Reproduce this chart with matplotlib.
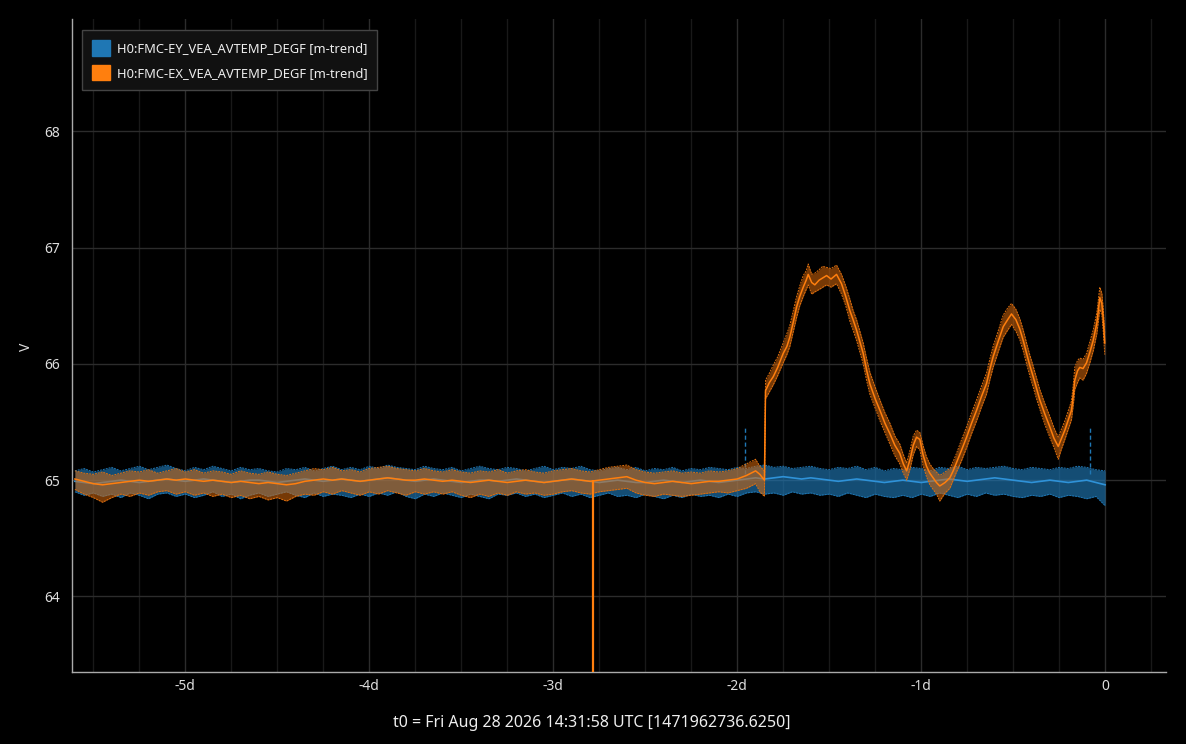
import numpy as np
import matplotlib
matplotlib.use("Agg")
import matplotlib.pyplot as plt
from matplotlib.patches import Patch

plt.rcParams['font.family'] = ['Noto Sans', 'DejaVu Sans']

# ---- data (days relative to t0, values in V) ----
labels = ["H0:FMC-EY_VEA_AVTEMP_DEGF [m-trend]",
          "H0:FMC-EX_VEA_AVTEMP_DEGF [m-trend]"]

# common sample grid for the flat part
days = np.round(np.arange(-5.60, 0.001, 0.05), 2)

blue_mean = [
    64.99, 64.98, 64.97, 64.98, 64.99, 65.00, 64.99, 64.98, 64.99, 65.00,
    65.01, 65.00, 64.99, 65.00, 65.01, 65.00, 64.99, 64.98, 64.99, 65.00,
    65.00, 64.99, 64.98, 64.99, 65.00, 65.01, 65.00, 64.99, 65.00, 65.01,
    65.00, 64.99, 65.00, 65.01, 65.02, 65.01, 65.00, 64.99, 65.00, 65.01,
    65.00, 64.99, 64.98, 64.99, 65.00, 65.00, 64.99, 65.00, 65.01, 65.00,
    64.99, 64.98, 64.99, 65.00, 65.01, 65.00, 64.99, 64.98, 64.99, 65.00,
    64.99, 64.98, 64.98, 64.99, 65.00, 64.99, 64.98, 64.99, 65.00, 64.99,
    64.98, 64.99, 65.00, 65.01, 65.02, 65.01, 65.02, 65.03, 65.02, 65.01,
    65.02, 65.01, 65.00, 64.99, 65.00, 65.01, 65.00, 64.99, 64.98, 64.99,
    65.00, 64.99, 64.98, 64.99, 65.00, 65.01, 65.00, 64.99, 65.00, 65.01,
    65.02, 65.01, 65.00, 64.99, 64.98, 64.99, 65.00, 64.99, 64.98, 64.99,
    65.00, 64.98, 64.96]
blue_hi = [
    65.08, 65.10, 65.07, 65.09, 65.11, 65.08, 65.10, 65.12, 65.09, 65.11,
    65.13, 65.10, 65.08, 65.11, 65.09, 65.12, 65.10, 65.08, 65.11, 65.09,
    65.10, 65.08, 65.07, 65.10, 65.09, 65.11, 65.08, 65.10, 65.12, 65.09,
    65.11, 65.09, 65.12, 65.10, 65.13, 65.11, 65.10, 65.09, 65.12, 65.10,
    65.09, 65.11, 65.08, 65.10, 65.12, 65.10, 65.09, 65.11, 65.10, 65.08,
    65.10, 65.12, 65.09, 65.11, 65.10, 65.12, 65.09, 65.08, 65.10, 65.11,
    65.09, 65.11, 65.08, 65.10, 65.09, 65.11, 65.08, 65.10, 65.09, 65.11,
    65.10, 65.09, 65.11, 65.10, 65.12, 65.13, 65.11, 65.12, 65.10, 65.11,
    65.12, 65.10, 65.09, 65.11, 65.10, 65.12, 65.09, 65.11, 65.08, 65.10,
    65.09, 65.11, 65.10, 65.08, 65.11, 65.10, 65.12, 65.09, 65.11, 65.10,
    65.11, 65.12, 65.10, 65.09, 65.11, 65.10, 65.09, 65.11, 65.10, 65.12,
    65.11, 65.09, 65.08]
blue_lo = [
    64.90, 64.87, 64.89, 64.86, 64.88, 64.85, 64.89, 64.87, 64.84, 64.88,
    64.89, 64.86, 64.88, 64.85, 64.87, 64.90, 64.86, 64.88, 64.84, 64.87,
    64.89, 64.86, 64.88, 64.90, 64.87, 64.85, 64.89, 64.86, 64.88, 64.87,
    64.85, 64.88, 64.86, 64.89, 64.87, 64.90, 64.86, 64.84, 64.88, 64.86,
    64.89, 64.87, 64.85, 64.88, 64.86, 64.84, 64.88, 64.87, 64.89, 64.86,
    64.88, 64.85, 64.87, 64.89, 64.86, 64.88, 64.85, 64.87, 64.89, 64.86,
    64.87, 64.85, 64.88, 64.86, 64.84, 64.87, 64.85, 64.88, 64.86, 64.87,
    64.85, 64.88, 64.86, 64.89, 64.90, 64.88, 64.89, 64.87, 64.90, 64.88,
    64.89, 64.87, 64.88, 64.86, 64.89, 64.87, 64.85, 64.88, 64.86, 64.85,
    64.87, 64.85, 64.88, 64.86, 64.89, 64.87, 64.85, 64.88, 64.86, 64.89,
    64.87, 64.88, 64.86, 64.85, 64.87, 64.86, 64.88, 64.85, 64.87, 64.86,
    64.84, 64.86, 64.78]
# single-sample glitches in the blue trace
blue_spike_t = [-1.96, -0.083]
blue_spike_hi = [65.46, 65.45]

# orange, quiet part (-5.60 .. -1.90 on the grid) then the two samples before the jump
orange_flat_t = [-1.877, -1.852]
orange_mean_flat = [
    65.01, 64.99, 64.97, 64.96, 64.97, 64.98, 64.99, 65.00, 64.99, 65.00,
    65.01, 65.00, 65.01, 65.00, 64.99, 65.00, 64.99, 64.98, 64.99, 64.98,
    64.97, 64.98, 64.97, 64.96, 64.97, 64.99, 65.00, 65.01, 65.00, 65.01,
    65.00, 64.99, 65.00, 65.01, 65.02, 65.01, 65.00, 65.00, 65.01, 65.00,
    64.99, 65.00, 64.99, 64.98, 64.99, 65.00, 64.99, 64.98, 64.99, 65.00,
    64.99, 64.98, 64.99, 65.00, 65.01, 65.00, 64.99, 65.00, 65.01, 65.02,
    65.03, 65.00, 64.98, 64.97, 64.98, 64.99, 64.98, 64.97, 64.98, 64.99,
    64.99, 65.00, 65.01, 65.04, 65.08,
    65.05, 65.00]
orange_hi_flat = [
    65.08, 65.06, 65.05, 65.07, 65.04, 65.06, 65.08, 65.07, 65.09, 65.06,
    65.08, 65.10, 65.07, 65.09, 65.06, 65.08, 65.07, 65.05, 65.08, 65.06,
    65.05, 65.07, 65.05, 65.04, 65.06, 65.08, 65.10, 65.09, 65.11, 65.08,
    65.09, 65.07, 65.10, 65.11, 65.12, 65.10, 65.09, 65.08, 65.10, 65.08,
    65.07, 65.09, 65.07, 65.06, 65.08, 65.07, 65.09, 65.06, 65.08, 65.09,
    65.07, 65.06, 65.08, 65.09, 65.10, 65.08, 65.07, 65.09, 65.11, 65.12,
    65.13, 65.09, 65.07, 65.06, 65.07, 65.08, 65.06, 65.07, 65.06, 65.08,
    65.07, 65.08, 65.10, 65.14, 65.18,
    65.12, 65.08]
orange_lo_flat = [
    64.92, 64.88, 64.85, 64.81, 64.85, 64.88, 64.86, 64.89, 64.87, 64.90,
    64.91, 64.88, 64.90, 64.87, 64.89, 64.86, 64.88, 64.85, 64.87, 64.84,
    64.86, 64.83, 64.85, 64.82, 64.86, 64.88, 64.87, 64.90, 64.88, 64.91,
    64.89, 64.87, 64.90, 64.88, 64.91, 64.89, 64.87, 64.90, 64.88, 64.90,
    64.88, 64.90, 64.87, 64.85, 64.88, 64.86, 64.89, 64.87, 64.90, 64.88,
    64.89, 64.87, 64.88, 64.90, 64.91, 64.89, 64.88, 64.90, 64.91, 64.92,
    64.93, 64.89, 64.87, 64.86, 64.88, 64.87, 64.86, 64.87, 64.88, 64.89,
    64.90, 64.89, 64.91, 64.93, 64.97,
    64.90, 64.86]

# orange, after the step at -1.85 d
orange_t = [
    -1.846, -1.825, -1.804, -1.780, -1.750, -1.730, -1.714, -1.695, -1.677, -1.660,
    -1.641, -1.625, -1.614, -1.595, -1.578, -1.555, -1.535, -1.514, -1.490, -1.460,
    -1.433, -1.410, -1.388, -1.370, -1.351, -1.333, -1.315, -1.297, -1.279, -1.250,
    -1.224, -1.197, -1.170, -1.143, -1.116, -1.097, -1.079, -1.060, -1.043, -1.025,
    -1.007, -0.990, -0.971, -0.953, -0.935, -0.917, -0.899, -0.870, -0.844, -0.826,
    -0.808, -0.780, -0.753, -0.726, -0.699, -0.672, -0.645, -0.627, -0.609, -0.580,
    -0.554, -0.530, -0.509, -0.485, -0.464, -0.445, -0.427, -0.410, -0.391, -0.373,
    -0.355, -0.328, -0.301, -0.278, -0.255, -0.237, -0.219, -0.200, -0.183, -0.172,
    -0.165, -0.150, -0.138, -0.120, -0.101, -0.083, -0.065, -0.045, -0.029, -0.018,
    -0.011, -0.002]
orange_mean = [
    65.77, 65.84, 65.89, 65.97, 66.09, 66.15, 66.23, 66.36, 66.49, 66.58,
    66.66, 66.72, 66.77, 66.70, 66.68, 66.72, 66.74, 66.76, 66.73, 66.77,
    66.69, 66.58, 66.46, 66.38, 66.29, 66.19, 66.09, 65.95, 65.83, 65.70,
    65.60, 65.49, 65.40, 65.30, 65.23, 65.14, 65.08, 65.18, 65.30, 65.37,
    65.35, 65.22, 65.12, 65.06, 65.02, 64.98, 64.95, 64.98, 65.02, 65.08,
    65.15, 65.26, 65.37, 65.49, 65.60, 65.72, 65.83, 65.95, 66.06, 66.20,
    66.32, 66.38, 66.43, 66.38, 66.30, 66.20, 66.09, 65.99, 65.89, 65.79,
    65.69, 65.57, 65.46, 65.36, 65.29, 65.36, 65.43, 65.52, 65.60, 65.75,
    65.86, 65.94, 65.97, 65.96, 66.01, 66.10, 66.20, 66.35, 66.57, 66.52,
    66.40, 66.18]
orange_hi = [
    65.86, 65.92, 65.99, 66.06, 66.18, 66.26, 66.33, 66.46, 66.58, 66.67,
    66.76, 66.80, 66.86, 66.77, 66.78, 66.81, 66.84, 66.83, 66.82, 66.85,
    66.77, 66.67, 66.56, 66.46, 66.38, 66.28, 66.18, 66.05, 65.93, 65.80,
    65.69, 65.58, 65.49, 65.38, 65.31, 65.22, 65.15, 65.26, 65.38, 65.43,
    65.41, 65.30, 65.20, 65.14, 65.10, 65.07, 65.04, 65.07, 65.10, 65.16,
    65.23, 65.35, 65.46, 65.58, 65.69, 65.81, 65.92, 66.04, 66.15, 66.29,
    66.42, 66.48, 66.52, 66.47, 66.39, 66.29, 66.18, 66.08, 65.98, 65.88,
    65.78, 65.66, 65.55, 65.45, 65.37, 65.44, 65.51, 65.60, 65.68, 65.84,
    65.97, 66.03, 66.05, 66.04, 66.09, 66.19, 66.29, 66.44, 66.66, 66.61,
    66.49, 66.27]
orange_lo = [
    65.70, 65.76, 65.82, 65.90, 66.01, 66.08, 66.15, 66.28, 66.40, 66.50,
    66.58, 66.64, 66.68, 66.60, 66.62, 66.64, 66.66, 66.68, 66.66, 66.69,
    66.60, 66.50, 66.37, 66.29, 66.20, 66.10, 66.00, 65.86, 65.74, 65.62,
    65.51, 65.41, 65.31, 65.21, 65.14, 65.06, 65.00, 65.10, 65.22, 65.29,
    65.26, 65.13, 65.03, 64.96, 64.92, 64.88, 64.82, 64.89, 64.93, 65.00,
    65.07, 65.17, 65.28, 65.40, 65.51, 65.63, 65.74, 65.86, 65.97, 66.11,
    66.23, 66.29, 66.34, 66.28, 66.21, 66.11, 66.00, 65.90, 65.80, 65.70,
    65.61, 65.48, 65.37, 65.28, 65.18, 65.27, 65.35, 65.44, 65.52, 65.66,
    65.78, 65.84, 65.88, 65.86, 65.92, 66.01, 66.11, 66.26, 66.47, 66.42,
    66.30, 66.08]
# dropout at -2.786 d
orange_spike_t = [-2.786]
orange_spike_from = [65.00]
orange_spike_to = [62.50]

xtick_vals = [-5, -4, -3, -2, -1, 0]
xtick_labels = ["-5d", "-4d", "-3d", "-2d", "-1d", "0"]
ytick_vals = [64, 65, 66, 67, 68]

# ---- build orange full arrays ----
flat_grid = days[days <= -1.899]
o_t = np.concatenate([flat_grid, orange_flat_t, orange_t])
o_mean = np.concatenate([orange_mean_flat, orange_mean])
o_hi = np.concatenate([orange_hi_flat, orange_hi])
o_lo = np.concatenate([orange_lo_flat, orange_lo])

# ---- figure ----
fig = plt.figure(figsize=(11.86, 7.44), dpi=100, facecolor='black')
ax = fig.add_axes([0.061, 0.0968, 0.922, 0.8777])
ax.set_facecolor('black')

blue = '#1f77b4'
orange = '#ff7f0e'

# blue series
ax.fill_between(days, blue_lo, blue_hi, color=blue, alpha=0.65, lw=0, zorder=2)
ax.plot(days, blue_hi, color=blue, lw=0.7, ls=(0, (2, 1)), zorder=2)
ax.plot(days, blue_lo, color=blue, lw=0.7, ls=(0, (2, 1)), zorder=2)
ax.vlines(blue_spike_t, 65.05, blue_spike_hi, color=blue, lw=1, ls=(0, (3, 2)), zorder=2)
ax.plot(days, blue_mean, color='#2f92d8', lw=1.2, zorder=3)

# orange series
ax.fill_between(o_t, o_lo, o_hi, color='#d9690c', alpha=0.55, lw=0, zorder=4)
ax.plot(o_t, o_hi, color='#e0700e', lw=0.7, ls=(0, (2, 1)), zorder=4)
ax.plot(o_t, o_lo, color='#e0700e', lw=0.7, ls=(0, (2, 1)), zorder=4)
ax.vlines(orange_spike_t, orange_spike_from, orange_spike_to, color=orange, lw=1.6, zorder=5)
ax.plot(o_t, o_mean, color=orange, lw=1.1, zorder=5)

# axes
ax.set_xlim(-5.614, 0.330)
ax.set_ylim(63.35, 68.967)
ax.set_xticks(xtick_vals)
ax.set_xticklabels(xtick_labels)
ax.set_xticks(np.arange(-5.5, 0.33, 0.25), minor=True)
ax.set_yticks(ytick_vals)
ax.tick_params(axis='both', which='both', length=0, colors='#dddddd', labelsize=10, pad=9)
ax.tick_params(axis='x', pad=5)
ax.grid(True, which='major', color='#2c2c2c', lw=1)
ax.grid(True, which='minor', axis='x', color='#191919', lw=1)
ax.set_axisbelow(True)
for s in ['top', 'right']:
    ax.spines[s].set_visible(False)
for s in ['left', 'bottom']:
    ax.spines[s].set_color('#aaaaaa')
    ax.spines[s].set_linewidth(1)

handles = [Patch(facecolor=blue, edgecolor=blue), Patch(facecolor=orange, edgecolor=orange)]
leg = ax.legend(handles, labels, loc='upper left', bbox_to_anchor=(0.009, 0.983),
                frameon=True, fancybox=False, facecolor='#111111', edgecolor='#444444',
                fontsize=9.3, labelcolor='#eeeeee', handlelength=1.4, handleheight=1.5,
                handletextpad=0.55, borderpad=0.75, labelspacing=0.7, borderaxespad=0)
leg.get_frame().set_linewidth(1)
leg.get_frame().set_alpha(1)

fig.text(0.022, 1 - 347 / 744, "V", rotation=90, color='#dddddd', fontsize=10,
         ha='center', va='center')
fig.text(0.499, 1 - 723 / 744, "t0 = Fri Aug 28 2026 14:31:58 UTC [1471962736.6250]",
         color='#eeeeee', fontsize=11.5, ha='center', va='center')

fig.savefig('out.png', dpi=100, facecolor='black')
